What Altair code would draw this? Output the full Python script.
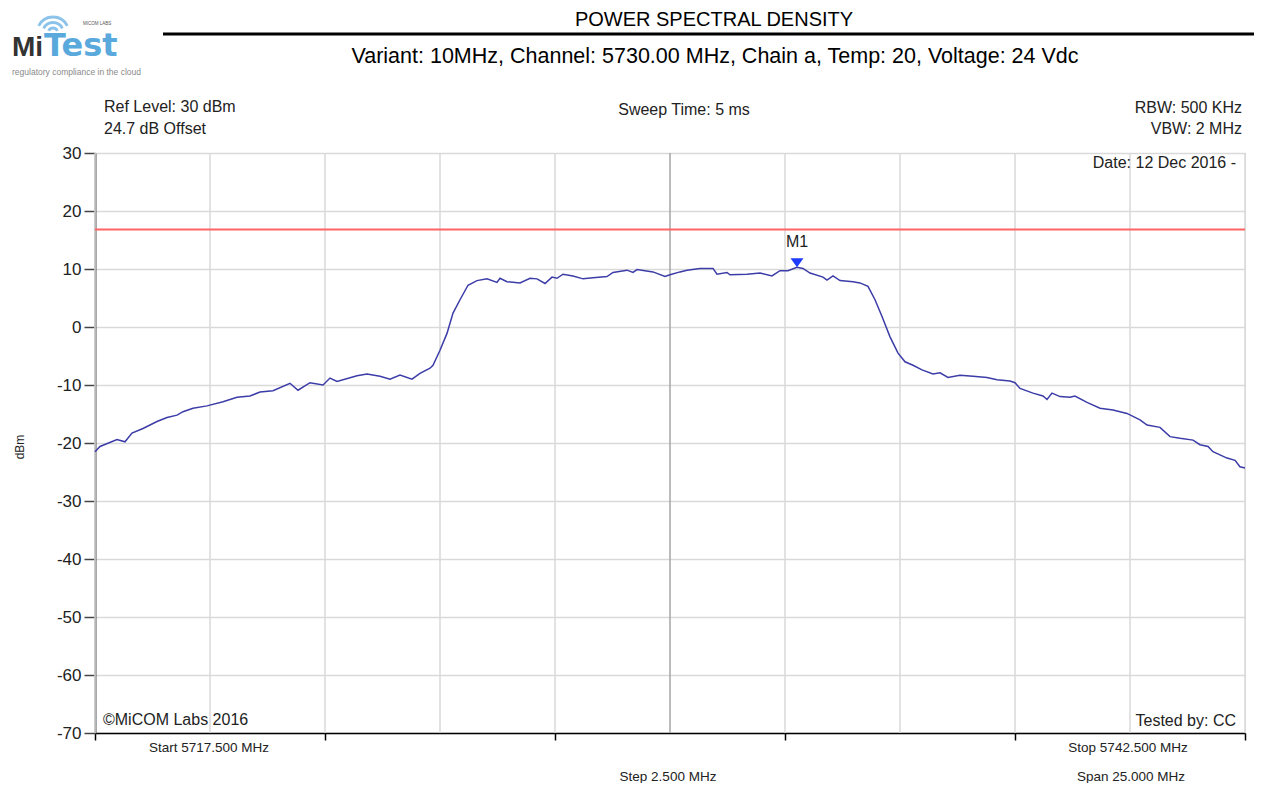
import altair as alt
import pandas as pd

# ---------------- data ----------------
freq_mhz = [
    5717.500, 5717.609, 5717.978, 5718.152, 5718.304, 5718.543, 5718.848, 5719.065, 5719.283, 5719.413,
    5719.630, 5719.935, 5720.283, 5720.587, 5720.870, 5721.087, 5721.370, 5721.739, 5721.913, 5722.174,
    5722.457, 5722.609, 5722.761, 5723.196, 5723.413, 5723.696, 5723.913, 5724.130, 5724.391, 5724.565,
    5724.783, 5724.848, 5725.000, 5725.152, 5725.283, 5725.435, 5725.609, 5725.804, 5726.022, 5726.239,
    5726.304, 5726.457, 5726.739, 5726.957, 5727.109, 5727.283, 5727.435, 5727.543, 5727.674, 5727.891,
    5728.109, 5728.326, 5728.630, 5728.761, 5729.065, 5729.196, 5729.283, 5729.630, 5729.891, 5730.000,
    5730.217, 5730.370, 5730.652, 5730.935, 5731.022, 5731.239, 5731.304, 5731.674, 5731.957, 5732.217,
    5732.391, 5732.565, 5732.761, 5732.891, 5733.043, 5733.326, 5733.413, 5733.543, 5733.696, 5733.978,
    5734.130, 5734.304, 5734.457, 5734.609, 5734.783, 5734.957, 5735.109, 5735.283, 5735.478, 5735.717,
    5735.870, 5736.043, 5736.304, 5736.587, 5736.891, 5737.109, 5737.391, 5737.500, 5737.609, 5737.891,
    5738.109, 5738.196, 5738.304, 5738.478, 5738.696, 5738.804, 5739.065, 5739.348, 5739.630, 5739.935,
    5740.217, 5740.370, 5740.652, 5740.870, 5741.087, 5741.370, 5741.522, 5741.696, 5741.804, 5742.109,
    5742.283, 5742.391, 5742.500,
]
level_dbm = [
    -21.5, -20.6, -19.4, -19.8, -18.3, -17.5, -16.3, -15.6, -15.2, -14.6,
    -14.0, -13.6, -12.9, -12.1, -11.9, -11.2, -11.0, -9.7, -10.9, -9.6,
    -10.0, -8.8, -9.4, -8.4, -8.1, -8.5, -9.0, -8.3, -9.0, -8.0,
    -7.1, -6.6, -4.0, -1.1, 2.4, 4.7, 7.2, 8.0, 8.3, 7.7,
    8.4, 7.8, 7.6, 8.4, 8.3, 7.5, 8.6, 8.4, 9.1, 8.8,
    8.3, 8.5, 8.7, 9.4, 9.8, 9.4, 9.9, 9.5, 8.7, 9.0,
    9.5, 9.8, 10.1, 10.1, 9.1, 9.4, 9.0, 9.1, 9.3, 8.8,
    9.7, 9.7, 10.3, 10.1, 9.3, 8.6, 8.1, 8.8, 8.0, 7.8,
    7.6, 7.0, 4.7, 1.8, -1.7, -4.5, -6.0, -6.6, -7.4, -8.1,
    -7.9, -8.7, -8.3, -8.5, -8.7, -9.1, -9.3, -9.6, -10.6, -11.4,
    -11.9, -12.5, -11.4, -12.0, -12.1, -11.9, -13.0, -14.0, -14.3, -14.9,
    -16.0, -16.9, -17.3, -18.9, -19.2, -19.5, -20.3, -20.6, -21.5, -22.6,
    -23.0, -24.1, -24.3,
]
grid_freqs = [5717.5, 5720.0, 5722.5, 5725.0, 5727.5, 5732.5, 5735.0, 5737.5, 5740.0, 5742.5]
center_freq = [5730.0]
tick_freqs = [5717.5, 5722.5, 5727.5, 5732.5, 5737.5, 5742.5]
y_ticks = [-70, -60, -50, -40, -30, -20, -10, 0, 10, 20, 30]
limit_dbm = [16.8]
marker_freq = [5732.761]
marker_dbm = [10.3]
marker_name = ["M1"]

FONT = "Liberation Sans"

xs = alt.Scale(domain=[5717.5, 5742.5], nice=False, zero=False)
ys = alt.Scale(domain=[-70, 30], nice=False, zero=False)
ax_x = alt.Axis(values=tick_freqs, labels=False, title=None, grid=False,
                domainColor="#000000", domainWidth=1.5, tickColor="#000000",
                tickSize=7, tickWidth=1.5)
ax_y = alt.Axis(values=y_ticks, title=None, grid=True, gridColor="#d9d9d9",
                gridWidth=1.5, domainColor="#555555", domainWidth=2,
                tickColor="#444444", tickSize=11, tickWidth=1.5,
                labelFontSize=17, labelColor="#222222", labelPadding=3,
                labelFont=FONT, labelExpr="toString(datum.value)")

trace = pd.DataFrame({"freq": freq_mhz, "dbm": level_dbm})

vgrid = alt.Chart(pd.DataFrame({"f": grid_freqs})).mark_rule(
    color="#d9d9d9", strokeWidth=1.5).encode(
    x=alt.X("f:Q", scale=xs, axis=ax_x))
vcenter = alt.Chart(pd.DataFrame({"f": center_freq})).mark_rule(
    color="#a6a6a6", strokeWidth=1.5).encode(
    x=alt.X("f:Q", scale=xs, axis=ax_x))
limit = alt.Chart(pd.DataFrame({"v": limit_dbm})).mark_rule(
    color="#ff6464", strokeWidth=2).encode(
    y=alt.Y("v:Q", scale=ys, axis=ax_y))
line = alt.Chart(trace).mark_line(color="#3c3ca8", strokeWidth=1.5).encode(
    x=alt.X("freq:Q", scale=xs, axis=ax_x),
    y=alt.Y("dbm:Q", scale=ys, axis=ax_y))

mk = pd.DataFrame({"f": marker_freq, "v": marker_dbm, "n": marker_name})
marker = alt.Chart(mk).mark_point(
    shape="M-1,-0.7L1,-0.7L0,0.7Z", size=169, filled=True, opacity=1,
    color="#1f3bff", yOffset=-4.5).encode(
    x=alt.X("f:Q", scale=xs, axis=ax_x), y=alt.Y("v:Q", scale=ys, axis=ax_y))
marker_lbl = alt.Chart(mk).mark_text(
    dy=-25, fontSize=16, font=FONT, color="#222222", baseline="middle").encode(
    x=alt.X("f:Q", scale=xs, axis=ax_x), y=alt.Y("v:Q", scale=ys, axis=ax_y),
    text="n:N")


def label(txt, x, y, size=16, align="left", color="#222222", weight="normal",
          angle=0, baseline="middle", font=FONT):
    return alt.Chart(pd.DataFrame({"t": [txt]})).mark_text(
        align=align, baseline=baseline, fontSize=size, color=color,
        fontWeight=weight, angle=angle, font=font).encode(
        x=alt.value(x), y=alt.value(y), text="t:N")


# plot origin is at page (95, 153)
texts = [
    label("POWER SPECTRAL DENSITY", 619, -133.5, size=20, align="center", color="#000000"),
    label("Variant: 10MHz, Channel: 5730.00 MHz, Chain a, Temp: 20, Voltage: 24 Vdc",
          620, -96, size=21.5, align="center", color="#000000"),
    label("Ref Level: 30 dBm", 9, -46),
    label("24.7 dB Offset", 9, -24),
    label("Sweep Time: 5 ms", 589, -43, align="center"),
    label("RBW: 500 KHz", 1147, -45, align="right"),
    label("VBW: 2 MHz", 1147, -24, align="right"),
    label("Date: 12 Dec 2016 -", 1141, 10, align="right"),
    label("\u00a9MiCOM Labs 2016", 8, 567),
    label("Tested by: CC", 1141, 568, align="right"),
    label("Start 5717.500 MHz", 114, 595, size=13.5, align="center"),
    label("Stop 5742.500 MHz", 1033, 595, size=13.5, align="center"),
    label("Step 2.500 MHz", 573, 624, size=13.5, align="center"),
    label("Span 25.000 MHz", 1036, 624, size=13.5, align="center"),
    label("dBm", -75, 294, size=12, align="center", angle=270),
    # logo
    label("Mi", -83, -97, size=28, weight="bold", color="#333333", baseline="alphabetic"),
    label("Test", -51, -97, size=32, weight="bold", color="#5aa9dd",
          baseline="alphabetic", font="DejaVu Sans"),
    label("MICOM LABS", -12, -129, size=4.5, color="#555555"),
    label("regulatory compliance in the cloud", -83, -81, size=8.5, color="#8a8a8a"),
]

# header bar
bar = alt.Chart(pd.DataFrame({"a": [0]})).mark_rule(
    color="#000000", strokeWidth=3).encode(
    x=alt.value(68), x2=alt.value(1170), y=alt.value(-119))

# wifi arcs of logo
arc_radii = [5, 10.5, 16]
arcs = [
    alt.Chart(pd.DataFrame({"a": [0]})).mark_arc(
        radius=r + 1.4, radius2=r - 1.4, theta=5.18, theta2=7.39,
        color="#8cc3ea").encode(x=alt.value(-42), y=alt.value(-120))
    for r in arc_radii
]

chart = alt.layer(
    vgrid, vcenter, limit, line, marker, marker_lbl, bar, *arcs, *texts
).properties(
    width=1150, height=580,
    padding={"left": 87, "top": 145, "right": 9, "bottom": 50},
    autosize=alt.AutoSizeParams(type="none"),
).configure_view(stroke=None).configure(font=FONT)

chart.save("out.html", embed_options={"renderer": "svg", "actions": False})
